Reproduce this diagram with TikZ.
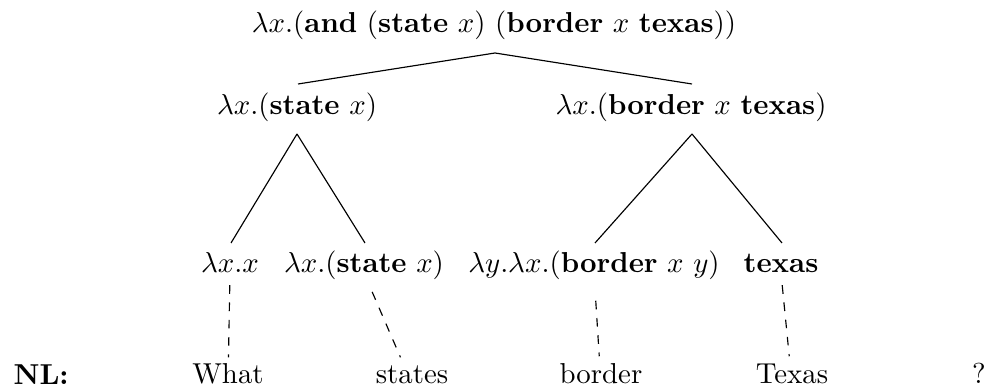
\documentclass[tikz,border=0pt]{standalone}
\usetikzlibrary{calc}
\begin{document}
\begin{tikzpicture}[x=0.347pt,y=-0.347pt,
  lf/.style={inner sep=0pt,anchor=base},
  treeedge/.style={line width=0.4pt},
  alignedge/.style={line width=0.4pt,dashed}]
\useasboundingbox (0,0) rectangle (992,388);

% derivation tree
\node[lf] (root) at (494,33) {$\lambda x.(\textbf{and}\ (\textbf{state}\ x)\ (\textbf{border}\ x\ \textbf{texas}))$};
\node[lf] (l) at (297,115) {$\lambda x.(\textbf{state}\ x)$};
\node[lf] (r) at (691,115) {$\lambda x.(\textbf{border}\ x\ \textbf{texas})$};
\node[lf] (l1) at (230,273) {$\lambda x.x$};
\node[lf] (l2) at (364,273) {$\lambda x.(\textbf{state}\ x)$};
\node[lf] (r1) at (594,273) {$\lambda y.\lambda x.(\textbf{border}\ x\ y)$};
\node[lf] (r2) at (781,273) {$\textbf{texas}$};

% sentence
\node[inner sep=0pt,anchor=base west] (nl) at (13,385) {\textbf{NL:}};
\node[lf] (w1) at (228,384) {What};
\node[lf] (w2) at (412,384) {states};
\node[lf] (w3) at (601,384) {border};
\node[lf] (w4) at (792,384) {Texas};
\node[lf] (q) at (979,384) {?};

% tree edges
\coordinate (rootb) at ($(root.base)+(1,20)$);
\draw[treeedge] (rootb) -- ($(l.base)+(1,-31)$);
\draw[treeedge] (rootb) -- ($(r.base)+(1,-31)$);
\draw[treeedge] ($(l.base)+(0,19)$) -- ($(l1.base)+(1,-30)$);
\draw[treeedge] ($(l.base)+(0,19)$) -- ($(l2.base)+(1,-30)$);
\draw[treeedge] ($(r.base)+(1,19)$) -- ($(r1.base)+(1,-30)$);
\draw[treeedge] ($(r.base)+(1,19)$) -- ($(r2.base)+(1,-30)$);

% word alignments
\draw[alignedge] ($(l1.base)!0.11!(w1.base)$) -- ($(l1.base)!0.76!(w1.base)$);
\draw[alignedge] ($(l2.base)!0.17!(w2.base)$) -- ($(l2.base)!0.76!(w2.base)$);
\draw[alignedge] ($(r1.base)!0.25!(w3.base)$) -- ($(r1.base)!0.75!(w3.base)$);
\draw[alignedge] ($(r2.base)!0.11!(w4.base)$) -- ($(r2.base)!0.75!(w4.base)$);
\end{tikzpicture}
\end{document}
